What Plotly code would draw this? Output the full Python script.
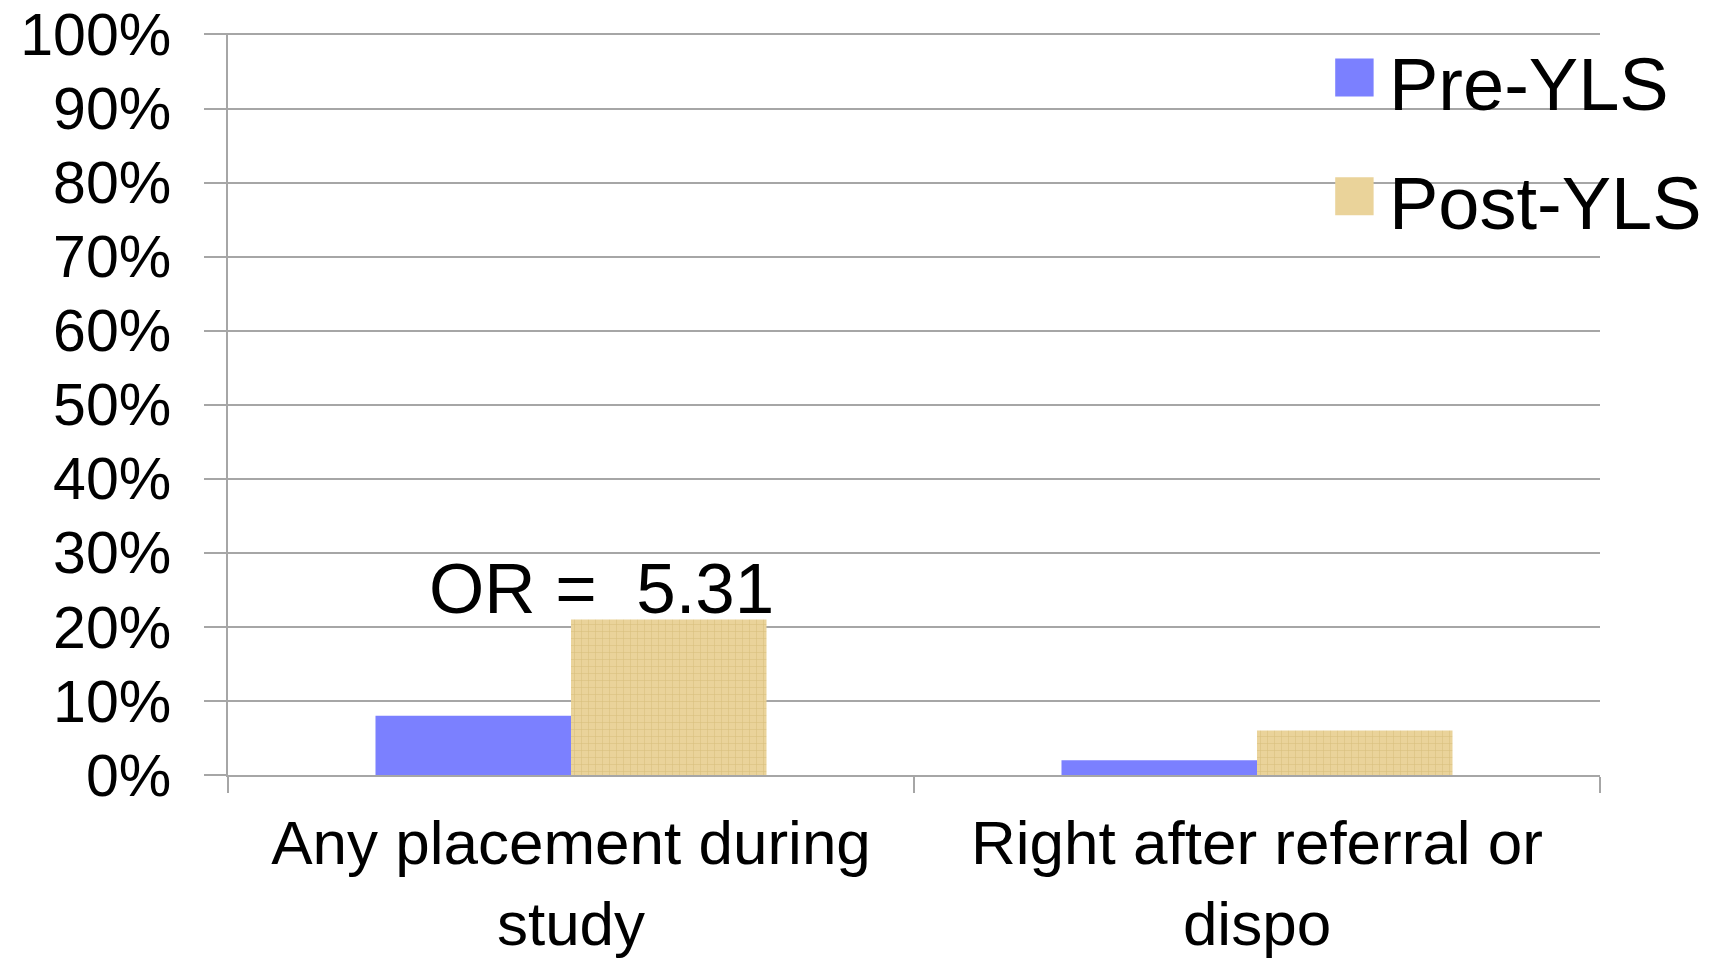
import plotly.graph_objects as go

categories = ["Any placement during<br>study", "Right after referral or<br>dispo"]
series_names = ["Pre-YLS", "Post-YLS"]
pre_values = [0.08, 0.02]
post_values = [0.21, 0.06]
y_ticks = [i / 10 for i in range(11)]
y_tick_labels = [f"{i * 10}%" for i in range(11)]
or_label = "OR = \u00a05.31"

BLUE = "#7B80FF"
TAN = "#EAD39A"
GRID = "#A6A6A6"
FONT = "Arial, Liberation Sans, sans-serif"

fig = go.Figure()
fig.add_trace(go.Bar(
    x=categories, y=pre_values, name=series_names[0],
    marker=dict(color=BLUE, line=dict(width=0)), showlegend=False,
))
fig.add_trace(go.Bar(
    x=categories, y=post_values, name=series_names[1],
    marker=dict(color=TAN, line=dict(width=0),
                pattern=dict(shape="+", size=7, solidity=0.15,
                             fgcolor="#D8BE7C", bgcolor=TAN, fillmode="replace")),
    showlegend=False,
))

fig.update_layout(
    width=1718, height=963,
    margin=dict(l=228, r=118, t=33, b=188),
    paper_bgcolor="white", plot_bgcolor="white",
    barmode="group", bargap=0.43, bargroupgap=0,
    font=dict(family=FONT, color="black"),
    showlegend=False,
)
fig.update_yaxes(
    range=[0, 1.002], tickvals=y_ticks, ticktext=y_tick_labels,
    showgrid=True, gridcolor=GRID, gridwidth=2,
    zeroline=False, showline=True, linecolor=GRID, linewidth=2,
    ticks="outside", ticklen=22, tickwidth=2, tickcolor=GRID,
    tickfont=dict(size=59, family=FONT, color="black"),
    ticklabelstandoff=21, automargin=False, ticklabeloverflow="allow",
)
fig.update_xaxes(
    showgrid=False, showline=True, linecolor=GRID, linewidth=2,
    ticks="outside", tickson="boundaries", ticklen=16, tickwidth=2, tickcolor=GRID,
    tickfont=dict(size=62, family=FONT, color="black"),
    ticklabelstandoff=13, automargin=False, ticklabeloverflow="allow",
)

fig.add_annotation(
    x=categories[0], y=post_values[0], xref="x", yref="y",
    text=or_label, showarrow=False, xanchor="center", yanchor="bottom",
    xshift=30, yshift=-11, font=dict(size=71, family=FONT, color="black"),
)

# Legend (large keys drawn in paper coordinates)
legend_rows = [(0.940, BLUE), (0.780, TAN)]
for (yc, col), name in zip(legend_rows, series_names):
    fig.add_shape(type="rect", xref="paper", yref="paper",
                  x0=0.807, x1=0.835, y0=yc - 0.0255, y1=yc + 0.0255,
                  fillcolor=col, line=dict(width=0))
    fig.add_annotation(x=0.845, y=yc - 0.010, xref="paper", yref="paper",
                       text=name, showarrow=False, xanchor="left", yanchor="middle",
                       font=dict(size=74, family=FONT, color="black"))

fig.write_html("out.html",
               config={"displayModeBar": False},
               post_script="document.body.style.margin='0';document.body.style.overflow='hidden';")
